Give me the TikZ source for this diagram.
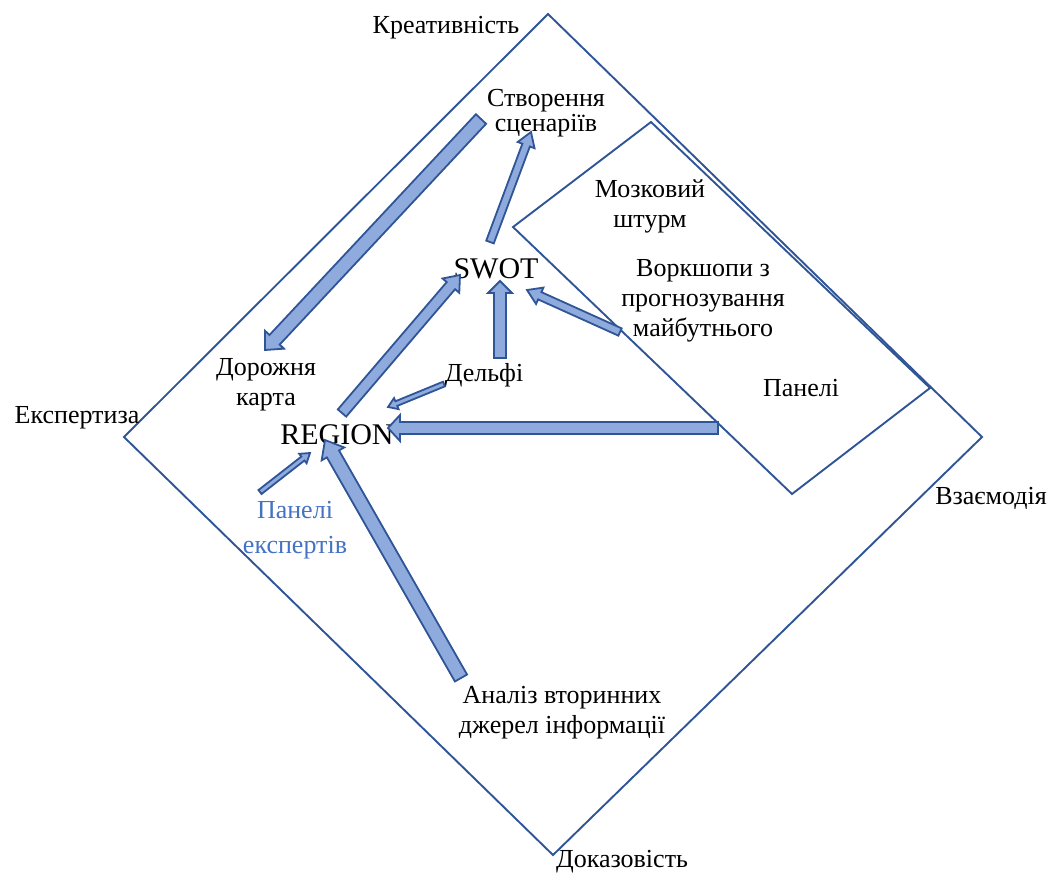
\documentclass[tikz,border=0pt]{standalone}
\usepackage{fontspec}
\setmainfont{Liberation Serif}
\usetikzlibrary{calc}
\definecolor{frameblue}{HTML}{2F5597}
\definecolor{arrowfill}{HTML}{8FAADC}
\definecolor{textblue}{HTML}{4472C4}
\tikzset{
  frame/.style={draw=frameblue, line width=0.95pt},
  blockarrow/.style={fill=arrowfill, draw=frameblue, line width=0.9pt, line join=miter},
  lbl/.style={font=\fontsize{13}{15}\selectfont, align=center, inner sep=0pt},
  big/.style={font=\fontsize{15}{17}\selectfont, inner sep=0pt}
}
% Block arrow: tail, tip, half shaft, half head, head length
\newcommand{\blockarrow}[5]{
  \coordinate (hb) at ($(#2)!#5!(#1)$);
  \filldraw [blockarrow] ($(#1)!#3!90:(#2)$) -- ($(hb)!#3!90:(#2)$)
    -- ($(hb)!#4!90:(#2)$) -- (#2) -- ($(hb)!#4!-90:(#2)$)
    -- ($(hb)!#3!-90:(#2)$) -- ($(#1)!#3!-90:(#2)$) -- cycle;
}

\begin{document}
\begin{tikzpicture}[x=0.5pt, y=-0.5pt]
    \useasboundingbox (0,0) rectangle (1053,875);

    % The big diamond
    \draw [frame] (548,14) -- (982,437) -- (553,855) -- (124,437) -- cycle;
    % The inner box
    \draw [frame] (651,122) -- (930,388) -- (792,494) -- (513,227) -- cycle;

    % Corner labels
    \node [lbl] (creat) at (446,28) {Креативність};
    \node [lbl] (expert) at (77,418) {Експертиза};
    \node [lbl] (inter) at (991,498) {Взаємодія};
    \node [lbl] (evid) at (622,862) {Доказовість};

    % Methods
    \node [lbl, font=\fontsize{13}{12.5}\selectfont] (scen) at (546,113) {Створення\\сценаріїв};
    \node [lbl] (storm) at (650,206) {Мозковий\\штурм};
    \node [lbl] (work) at (703,301) {Воркшопи з\\прогнозування\\майбутнього};
    \node [lbl] (panel) at (801,388) {Панелі};
    \node [lbl] (road) at (266,385) {Дорожня\\карта};
    \node [lbl] (delphi) at (484,375) {Дельфі};
    \node [lbl, text=textblue, font=\fontsize{13}{17.5}\selectfont] (panexp) at (295,530) {Панелі\\експертів};
    \node [lbl] (second) at (562,713) {Аналіз вторинних\\джерел інформації};
    \node [big] (swot) at (496,269) {SWOT};
    \node [big] (region) at (337,435) {REGION};

    % Arrow ends
    \coordinate (scen-out) at (481,119);   \coordinate (road-in) at (265,350);
    \coordinate (swot-out) at (490,242);   \coordinate (scen-in) at (531,132);
    \coordinate (region-out) at (342,413); \coordinate (swot-in1) at (460,275);
    \coordinate (delphi-up) at (500,358);  \coordinate (swot-in2) at (500,281);
    \coordinate (delphi-dn) at (444,384);  \coordinate (region-in1) at (388,407);
    \coordinate (work-out) at (620,332);   \coordinate (swot-in3) at (527,290);
    \coordinate (panel-out) at (718,428);  \coordinate (region-in2) at (388,428);
    \coordinate (panexp-out) at (260,492); \coordinate (region-in3) at (310,453);
    \coordinate (second-out) at (461,678); \coordinate (region-in4) at (325,440);

    % Block arrows
    \blockarrow{scen-out}{road-in}{3.5pt}{6.5pt}{7pt}
    \blockarrow{swot-out}{scen-in}{2pt}{4.5pt}{7pt}
    \blockarrow{region-out}{swot-in1}{2.75pt}{5.5pt}{7pt}
    \blockarrow{delphi-up}{swot-in2}{3pt}{6pt}{6pt}
    \blockarrow{delphi-dn}{region-in1}{1.25pt}{3pt}{4.5pt}
    \blockarrow{work-out}{swot-in3}{2pt}{4.5pt}{7pt}
    \blockarrow{panel-out}{region-in2}{3pt}{6.5pt}{6pt}
    \blockarrow{panexp-out}{region-in3}{1.25pt}{3pt}{4.5pt}
    \blockarrow{second-out}{region-in4}{3.5pt}{6.5pt}{8pt}
\end{tikzpicture}
\end{document}
